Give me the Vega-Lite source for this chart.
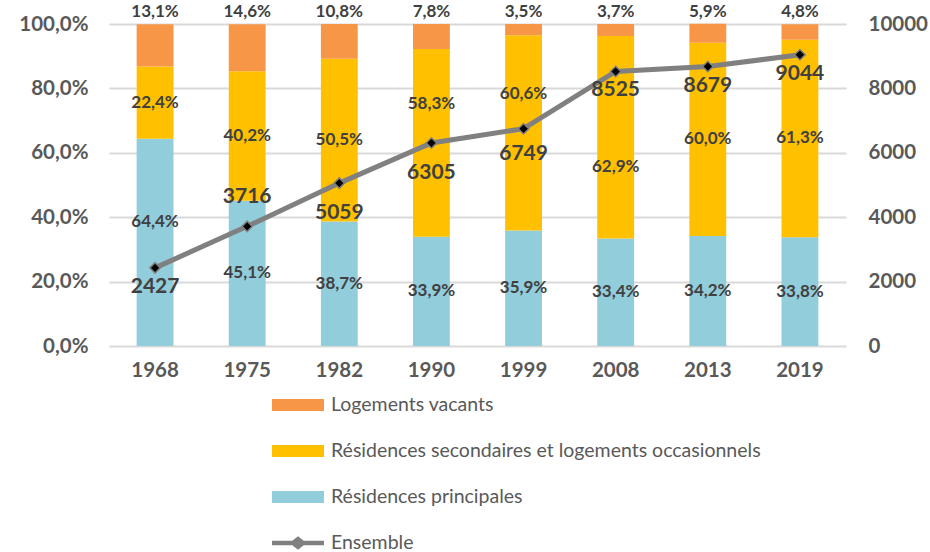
{
  "$schema": "https://vega.github.io/schema/vega-lite/v6.json",
  "autosize": "none",
  "width": 737,
  "height": 322,
  "padding": {"left": 109, "top": 24, "right": 84, "bottom": 206},
  "background": "white",
  "config": {
    "locale": {"number": {"decimal": ",", "thousands": " ", "grouping": [3], "currency": ["", " €"]}},
    "view": {"stroke": null},
    "font": "Lato",
    "axis": {"labelFont": "Lato", "labelFontSize": 20.5, "labelFontWeight": "bold", "labelColor": "#595959", "domain": false, "ticks": false, "title": null, "labelOverlap": false, "labelFlush": false, "labelBound": false}
  },
  "datasets": {
    "parts": [
      {"annee": "1968", "serie": "Résidences principales", "rang": 1, "part": 0.644},
      {"annee": "1968", "serie": "Résidences secondaires et logements occasionnels", "rang": 2, "part": 0.224},
      {"annee": "1968", "serie": "Logements vacants", "rang": 3, "part": 0.131},
      {"annee": "1975", "serie": "Résidences principales", "rang": 1, "part": 0.451},
      {"annee": "1975", "serie": "Résidences secondaires et logements occasionnels", "rang": 2, "part": 0.402},
      {"annee": "1975", "serie": "Logements vacants", "rang": 3, "part": 0.146},
      {"annee": "1982", "serie": "Résidences principales", "rang": 1, "part": 0.387},
      {"annee": "1982", "serie": "Résidences secondaires et logements occasionnels", "rang": 2, "part": 0.505},
      {"annee": "1982", "serie": "Logements vacants", "rang": 3, "part": 0.108},
      {"annee": "1990", "serie": "Résidences principales", "rang": 1, "part": 0.339},
      {"annee": "1990", "serie": "Résidences secondaires et logements occasionnels", "rang": 2, "part": 0.583},
      {"annee": "1990", "serie": "Logements vacants", "rang": 3, "part": 0.078},
      {"annee": "1999", "serie": "Résidences principales", "rang": 1, "part": 0.359},
      {"annee": "1999", "serie": "Résidences secondaires et logements occasionnels", "rang": 2, "part": 0.606},
      {"annee": "1999", "serie": "Logements vacants", "rang": 3, "part": 0.035},
      {"annee": "2008", "serie": "Résidences principales", "rang": 1, "part": 0.334},
      {"annee": "2008", "serie": "Résidences secondaires et logements occasionnels", "rang": 2, "part": 0.629},
      {"annee": "2008", "serie": "Logements vacants", "rang": 3, "part": 0.037},
      {"annee": "2013", "serie": "Résidences principales", "rang": 1, "part": 0.342},
      {"annee": "2013", "serie": "Résidences secondaires et logements occasionnels", "rang": 2, "part": 0.600},
      {"annee": "2013", "serie": "Logements vacants", "rang": 3, "part": 0.059},
      {"annee": "2019", "serie": "Résidences principales", "rang": 1, "part": 0.338},
      {"annee": "2019", "serie": "Résidences secondaires et logements occasionnels", "rang": 2, "part": 0.613},
      {"annee": "2019", "serie": "Logements vacants", "rang": 3, "part": 0.048}
    ],
    "ensemble": [
      {"annee": "1968", "total": 2427},
      {"annee": "1975", "total": 3716},
      {"annee": "1982", "total": 5059},
      {"annee": "1990", "total": 6305},
      {"annee": "1999", "total": 6749},
      {"annee": "2008", "total": 8525},
      {"annee": "2013", "total": 8679},
      {"annee": "2019", "total": 9044}
    ]
  },
  "encoding": {
    "x": {
      "field": "annee", "type": "nominal", "sort": null,
      "scale": {"paddingInner": 0.6, "paddingOuter": 0.3},
      "axis": {"labelAngle": 0, "labelPadding": 14, "grid": false}
    }
  },
  "layer": [
    {
      "data": {"name": "parts"},
      "transform": [
        {"stack": "part", "groupby": ["annee"], "sort": [{"field": "rang", "order": "ascending"}], "as": ["y0", "y1"]},
        {"calculate": "(datum.y0 + datum.y1) / 2", "as": "ymid"}
      ],
      "layer": [
        {
          "mark": {"type": "bar"},
          "encoding": {
            "y": {"field": "y0", "type": "quantitative", "scale": {"domain": [0, 1]},
                  "axis": {"orient": "left", "format": ".1%", "values": [0, 0.2, 0.4, 0.6, 0.8, 1], "grid": true, "gridColor": "#D9D9D9", "gridWidth": 2, "labelPadding": 21}},
            "y2": {"field": "y1"},
            "color": {
              "field": "serie", "type": "nominal",
              "scale": {
                "domain": ["Logements vacants", "Résidences secondaires et logements occasionnels", "Résidences principales", "Ensemble"],
                "range": ["#F79646", "#FFC000", "#92CDDC", "#808080"]
              },
              "legend": {
                "title": null, "orient": "none", "legendX": 163, "legendY": 355, "direction": "vertical",
                "symbolType": "M-1,-0.23H1V0.23H-1Z", "symbolSize": 2704,
                "labelFont": "Lato", "labelFontSize": 19.5, "labelColor": "#595959", "labelOffset": 7, "labelLimit": 0,
                "rowPadding": 10,
                "encode": {
                  "symbols": {"update": {
                    "shape": {"signal": "datum.value === 'Ensemble' ? 'M-1,-0.09H-0.22L0,-0.26L0.22,-0.09H1V0.09H0.22L0,0.26L-0.22,0.09H-1Z' : 'M-1,-0.23H1V0.23H-1Z'"},
                    "fill": {"scale": "color", "field": "value"},
                    "strokeWidth": {"value": 0},
                    "opacity": {"value": 1}
                  }}
                }
              }
            }
          }
        },
        {
          "transform": [{"filter": "datum.rang < 3 && !(datum.rang == 1 && datum.annee == '1968') && !(datum.rang == 2 && (datum.annee == '1990' || datum.annee == '1999' || datum.annee == '2008'))"}],
          "mark": {"type": "text", "fontSize": 17, "fontWeight": "bold", "color": "#404040", "baseline": "middle"},
          "encoding": {
            "y": {"field": "ymid", "type": "quantitative"},
            "text": {"field": "part", "type": "quantitative", "format": ".1%"}
          }
        },
        {
          "transform": [{"filter": "datum.rang == 1 && datum.annee == '1968'"}],
          "mark": {"type": "text", "fontSize": 17, "fontWeight": "bold", "color": "#404040", "baseline": "middle", "dy": -20},
          "encoding": {
            "y": {"field": "ymid", "type": "quantitative"},
            "text": {"field": "part", "type": "quantitative", "format": ".1%"}
          }
        },
        {
          "transform": [{"filter": "datum.rang == 2 && (datum.annee == '1990' || datum.annee == '1999')"}],
          "mark": {"type": "text", "fontSize": 17, "fontWeight": "bold", "color": "#404040", "baseline": "middle", "dy": -39},
          "encoding": {
            "y": {"field": "ymid", "type": "quantitative"},
            "text": {"field": "part", "type": "quantitative", "format": ".1%"}
          }
        },
        {
          "transform": [{"filter": "datum.rang == 2 && datum.annee == '2008'"}],
          "mark": {"type": "text", "fontSize": 17, "fontWeight": "bold", "color": "#404040", "baseline": "middle", "dy": 30},
          "encoding": {
            "y": {"field": "ymid", "type": "quantitative"},
            "text": {"field": "part", "type": "quantitative", "format": ".1%"}
          }
        },
        {
          "transform": [{"filter": "datum.rang == 3"}],
          "mark": {"type": "text", "fontSize": 17, "fontWeight": "bold", "color": "#404040", "baseline": "middle", "dy": -12},
          "encoding": {
            "y": {"field": "y1", "type": "quantitative"},
            "text": {"field": "part", "type": "quantitative", "format": ".1%"}
          }
        }
      ]
    },
    {
      "data": {"name": "ensemble"},
      "encoding": {
        "y": {"field": "total", "type": "quantitative", "scale": {"domain": [0, 10000]},
              "axis": {"orient": "right", "format": "d", "values": [0, 2000, 4000, 6000, 8000, 10000], "grid": false, "labelPadding": 22, "labelAlign": "left"}}
      },
      "layer": [
        {
          "mark": {"type": "line", "strokeWidth": 5},
          "encoding": {"color": {"datum": "Ensemble"}}
        },
        {
          "mark": {"type": "point", "shape": "diamond", "filled": true, "fill": "black", "stroke": "#808080", "strokeWidth": 1.5, "size": 110, "opacity": 1}
        },
        {
          "transform": [{"filter": "datum.annee == '1968' || datum.annee == '2008' || datum.annee == '2013' || datum.annee == '2019'"}],
          "mark": {"type": "text", "fontSize": 21, "fontWeight": "bold", "color": "#404040", "baseline": "middle", "dy": 19},
          "encoding": {"text": {"field": "total", "type": "quantitative", "format": "d"}}
        },
        {
          "transform": [{"filter": "datum.annee == '1982' || datum.annee == '1990'"}],
          "mark": {"type": "text", "fontSize": 21, "fontWeight": "bold", "color": "#404040", "baseline": "middle", "dy": 30},
          "encoding": {"text": {"field": "total", "type": "quantitative", "format": "d"}}
        },
        {
          "transform": [{"filter": "datum.annee == '1999'"}],
          "mark": {"type": "text", "fontSize": 21, "fontWeight": "bold", "color": "#404040", "baseline": "middle", "dy": 25},
          "encoding": {"text": {"field": "total", "type": "quantitative", "format": "d"}}
        },
        {
          "transform": [{"filter": "datum.annee == '1975'"}],
          "mark": {"type": "text", "fontSize": 21, "fontWeight": "bold", "color": "#404040", "baseline": "middle", "dy": -29},
          "encoding": {"text": {"field": "total", "type": "quantitative", "format": "d"}}
        }
      ]
    }
  ],
  "resolve": {"scale": {"y": "independent"}}
}
